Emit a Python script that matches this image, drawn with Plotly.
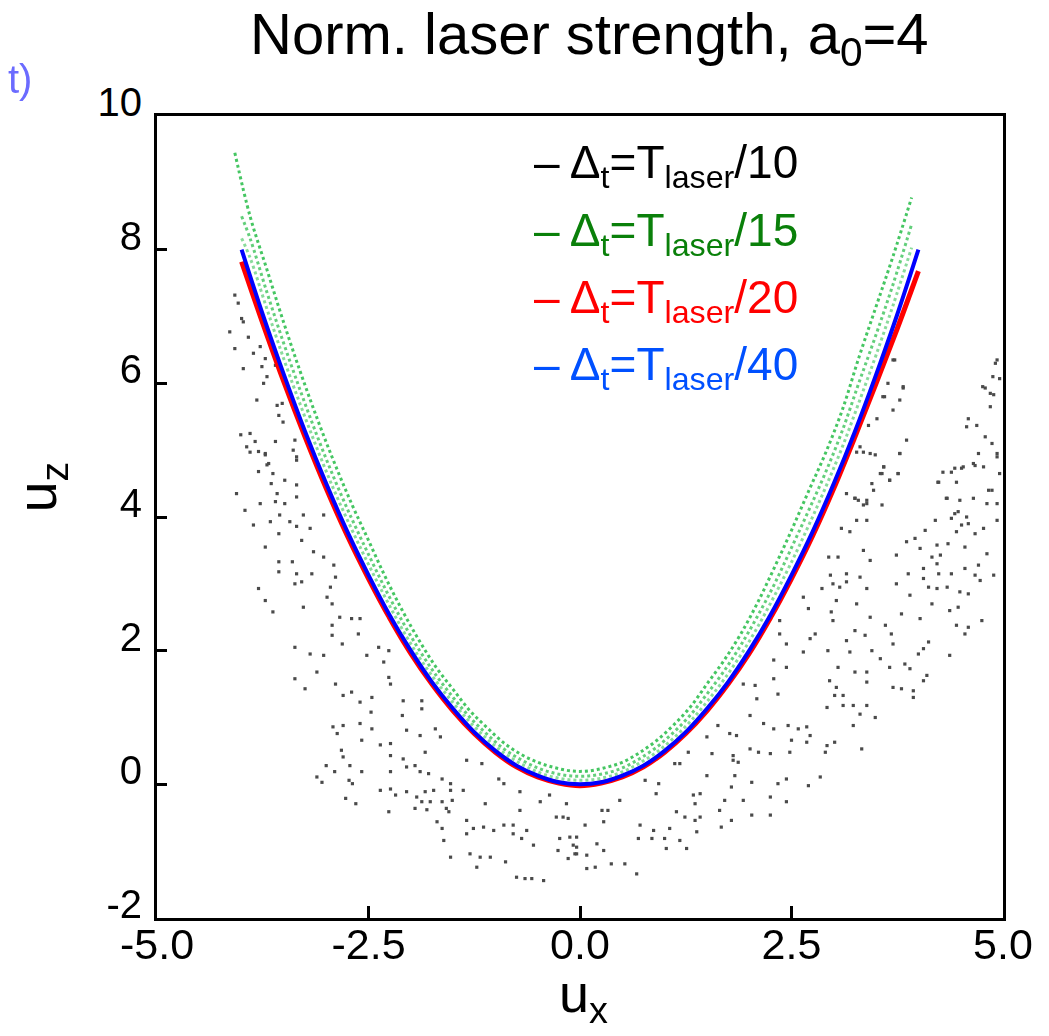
import plotly.graph_objects as go

# ---- axis ticks -------------------------------------------------------------
x_ticks = [-5.0, -2.5, 0.0, 2.5, 5.0]
x_tick_text = ["-5.0", "-2.5", "0.0", "2.5", "5.0"]
y_ticks = [-2, 0, 2, 4, 6, 8, 10]
y_tick_text = ["-2", "0", "2", "4", "6", "8", "10"]

# ---- dt = T_laser/40 (blue) ------------------------------------------------
ux_fine = [-4.0, -3.75, -3.5, -3.25, -3.0, -2.75, -2.5, -2.25, -2.0, -1.75, -1.5,
           -1.25, -1.0, -0.75, -0.5, -0.25, 0.0, 0.25, 0.5, 0.75, 1.0, 1.25, 1.5,
           1.75, 2.0, 2.25, 2.5, 2.75, 3.0, 3.25, 3.5, 3.75, 4.0]
uz_dt40 = [8.0, 7.03, 6.13, 5.28, 4.5, 3.78, 3.13, 2.53, 2.0, 1.53, 1.13, 0.78, 0.5,
           0.28, 0.13, 0.03, 0.0, 0.03, 0.13, 0.28, 0.5, 0.78, 1.13, 1.53, 2.0, 2.53,
           3.13, 3.78, 4.5, 5.28, 6.13, 7.03, 8.0]

# ---- dt = T_laser/20 (red) -------------------------------------------------
uz_dt20 = [7.82, 6.9, 6.02, 5.2, 4.43, 3.72, 3.08, 2.49, 1.96, 1.5, 1.1, 0.76, 0.48,
           0.26, 0.11, 0.02, -0.02, 0.02, 0.11, 0.26, 0.48, 0.76, 1.1, 1.5, 1.96, 2.49,
           3.08, 3.72, 4.43, 5.2, 6.0, 6.82, 7.68]

# ---- dt = T_laser/15 (green, three strands of sampled points) -----------------
ux_green = [-4.08, -3.9, -3.7, -3.5, -3.3, -3.1, -2.9, -2.7, -2.5, -2.3, -2.1, -1.9,
            -1.7, -1.5, -1.3, -1.1, -0.9, -0.7, -0.5, -0.3, -0.1, 0.1, 0.3, 0.5, 0.7,
            0.9, 1.1, 1.3, 1.5, 1.7, 1.9, 2.1, 2.3, 2.5, 2.7, 2.9, 3.1, 3.3, 3.5, 3.7,
            3.92]
uz_dt15_outer = [9.45, 8.5, 7.7, 6.9, 6.15, 5.45, 4.8, 4.2, 3.65, 3.1, 2.6, 2.15, 1.75,
                 1.42, 1.1, 0.85, 0.62, 0.45, 0.33, 0.25, 0.2, 0.2, 0.25, 0.33, 0.47,
                 0.65, 0.88, 1.15, 1.5, 1.85, 2.25, 2.72, 3.25, 3.8, 4.38, 4.95, 5.6,
                 6.4, 7.15, 7.9, 8.78]
ux_green_b = [-4.0, -3.9, -3.7, -3.5, -3.3, -3.1, -2.9, -2.7, -2.5, -2.3, -2.1, -1.9,
              -1.7, -1.5, -1.3, -1.1, -0.9, -0.7, -0.5, -0.3, -0.1, 0.1, 0.3, 0.5, 0.7,
              0.9, 1.1, 1.3, 1.5, 1.7, 1.9, 2.1, 2.3, 2.5, 2.7, 2.9, 3.1, 3.3, 3.5, 3.7,
              3.92]
uz_dt15_mid = [8.5, 8.17, 7.36, 6.59, 5.87, 5.19, 4.56, 3.98, 3.44, 2.92, 2.44, 2.01,
               1.63, 1.3, 1.0, 0.75, 0.53, 0.37, 0.245, 0.165, 0.125, 0.125, 0.165,
               0.245, 0.38, 0.55, 0.77, 1.03, 1.35, 1.69, 2.08, 2.52, 3.0, 3.54, 4.09,
               4.66, 5.29, 6.02, 6.73, 7.48, 8.38]
uz_dt15_inner = [8.17, 7.88, 7.11, 6.36, 5.66, 5.0, 4.38, 3.82, 3.29, 2.79, 2.32, 1.9,
                 1.54, 1.22, 0.93, 0.68, 0.47, 0.31, 0.185, 0.105, 0.065, 0.065, 0.105,
                 0.185, 0.315, 0.475, 0.685, 0.935, 1.235, 1.565, 1.935, 2.355, 2.825,
                 3.325, 3.865, 4.435, 5.045, 5.725, 6.425, 7.165, 8.03]

# ---- dt = T_laser/10 (black, scattered particles) ----------------------------
dots_upper_left = [
    (-4.08, 7.32), (-4.04, 7.20), (-4.00, 6.97), (-3.98, 6.92), (-4.14, 6.77),
    (-3.92, 6.69), (-4.08, 6.52), (-3.78, 6.55), (-3.72, 6.37), (-3.86, 6.45),
    (-3.98, 6.22), (-3.76, 6.25), (-3.70, 6.10), (-3.74, 6.00), (-3.60, 6.27),
    (-3.82, 5.75), (-3.58, 5.67), (-3.52, 5.70), (-3.56, 5.52), (-3.51, 5.42),
    (-4.01, 5.23), (-3.90, 5.25), (-3.60, 5.13), (-3.84, 5.13), (-3.94, 5.05),
    (-3.80, 4.98), (-3.72, 4.95), (-3.68, 4.80), (-3.37, 5.15), (-3.39, 5.00),
    (-3.35, 4.85), (-3.90, 4.97), (-3.72, 4.93), (-3.35, 4.90), (-3.70, 4.78),
    (-3.80, 4.68), (-3.63, 4.65), (-3.49, 4.55), (-3.65, 4.50), (-3.35, 4.48),
    (-4.06, 4.35), (-3.58, 4.35), (-3.35, 4.30), (-3.78, 4.20), (-3.60, 4.23),
    (-3.49, 4.20), (-3.96, 4.10), (-3.55, 4.03), (-3.27, 4.03), (-3.03, 4.03),
    (-3.66, 3.93), (-3.43, 3.93), (-3.86, 3.88), (-3.35, 3.86), (-3.19, 3.83),
    (-3.56, 3.75), (-3.29, 3.65), (-3.72, 3.55), (-3.15, 3.48), (-3.03, 3.40),
    (-3.56, 3.33), (-3.40, 3.33), (-2.91, 3.28), (-3.56, 3.18), (-3.35, 3.15),
    (-3.17, 3.15), (-2.89, 3.10), (-3.37, 3.00), (-3.29, 3.03), (-3.80, 2.93),
    (-2.95, 2.95), (-2.99, 2.80), (-3.72, 2.75), (-2.93, 2.70), (-3.63, 2.58),
    (-3.27, 2.65),
]
dots_lower_left = [
    (-2.84, 2.50), (-2.93, 2.38), (-2.70, 2.48), (-2.60, 2.48), (-2.62, 2.25),
    (-2.93, 2.23), (-2.81, 2.10), (-3.37, 2.05), (-3.19, 1.95), (-3.03, 1.93),
    (-2.38, 2.05), (-2.26, 2.00), (-2.52, 1.93), (-2.32, 1.83), (-3.11, 1.68),
    (-3.37, 1.58), (-2.89, 1.50), (-2.26, 1.60), (-2.24, 1.50), (-3.25, 1.43),
    (-2.70, 1.38), (-2.80, 1.33), (-2.60, 1.23), (-2.46, 1.30), (-2.09, 1.25),
    (-1.87, 1.25), (-2.47, 1.08), (-2.10, 1.03), (-1.87, 1.13), (-2.92, 0.86),
    (-2.80, 0.88), (-2.60, 0.91), (-2.87, 0.76), (-2.46, 0.83), (-2.05, 0.81),
    (-1.71, 0.83), (-2.58, 0.66), (-2.36, 0.59), (-2.24, 0.61), (-1.89, 0.73),
    (-1.65, 0.71), (-2.82, 0.51), (-2.24, 0.43), (-2.09, 0.38), (-1.83, 0.48),
    (-2.80, 0.41), (-1.34, 0.36), (-1.16, 0.31), (-3.00, 0.28), (-2.72, 0.28),
    (-2.05, 0.26), (-1.95, 0.28), (-2.90, 0.19), (-2.58, 0.19), (-2.24, 0.19),
    (-1.89, 0.19), (-1.79, 0.16), (-3.11, 0.11), (-3.05, 0.03), (-2.73, 0.06),
    (-2.69, 0.01), (-1.63, 0.08), (-1.53, 0.01), (-0.96, 0.08), (-0.90, 0.01),
    (-2.36, -0.09), (-2.24, -0.07), (-2.18, -0.16), (-2.05, -0.11), (-1.83, -0.11),
    (-1.73, -0.09), (-1.53, -0.09), (-1.38, -0.09), (-0.71, -0.11), (-0.36, -0.16),
    (-2.77, -0.21), (-2.65, -0.29), (-1.93, -0.19), (-1.87, -0.26), (-1.77, -0.26),
    (-1.63, -0.26), (-1.51, -0.24), (-1.12, -0.29), (-0.47, -0.26), (-0.16, -0.29),
    (-1.95, -0.36), (-1.81, -0.38), (-1.58, -0.36), (-1.55, -0.41), (-2.26, -0.41),
    (-0.71, -0.39), (-0.28, -0.49), (-0.20, -0.49), (-0.14, -0.51), (-1.69, -0.56),
    (-1.34, -0.54), (-1.63, -0.66), (-1.26, -0.66), (-1.14, -0.64), (-1.02, -0.69),
    (-0.90, -0.61), (-0.79, -0.61), (-0.63, -0.69), (-1.34, -0.74), (-0.79, -0.74),
    (-0.69, -0.81), (-0.55, -0.91), (-0.24, -0.81), (-0.12, -0.79), (-1.61, -0.84),
    (-0.26, -0.99), (-0.04, -0.94), (-1.53, -1.09), (-1.30, -1.04), (-1.18, -1.09),
    (-1.06, -1.09), (-0.88, -1.16), (-0.14, -1.11), (-0.06, -1.04), (-1.22, -1.24),
    (-0.75, -1.39), (-0.65, -1.41), (-0.57, -1.41), (-0.43, -1.44),
]
dots_lower_right = [
    (3.27, 4.97), (3.35, 4.97), (3.43, 4.95), (3.78, 4.95), (4.71, 4.95),
    (4.93, 4.90), (3.59, 4.75), (3.66, 4.55), (3.57, 4.65), (3.76, 4.65),
    (4.24, 4.52), (4.39, 4.67), (4.51, 4.73), (4.67, 4.77), (4.83, 4.40),
    (4.93, 4.20), (3.15, 4.35), (3.25, 4.28), (3.39, 4.25), (3.35, 4.18),
    (3.57, 4.18), (3.47, 4.40), (4.34, 4.28), (4.47, 4.08), (4.65, 4.28),
    (4.93, 3.95), (3.27, 3.95), (3.39, 3.95), (4.20, 3.95), (4.39, 3.98),
    (4.51, 3.88), (4.59, 3.90), (4.77, 3.83), (3.19, 3.78), (3.09, 3.83),
    (4.45, 3.78), (4.67, 3.75), (4.08, 3.80), (3.86, 3.63), (3.96, 3.68),
    (4.02, 3.53), (4.22, 3.58), (4.35, 3.60), (4.55, 3.55), (2.94, 3.40),
    (3.05, 3.40), (3.35, 3.50), (3.43, 3.35), (3.74, 3.43), (4.16, 3.40),
    (4.26, 3.43), (4.81, 3.45), (4.71, 3.28), (4.06, 3.23), (4.22, 3.30),
    (4.55, 3.23), (2.96, 3.13), (3.15, 3.15), (3.31, 3.10), (3.88, 3.15),
    (4.06, 3.08), (4.24, 3.15), (4.39, 3.15), (4.67, 3.13), (4.89, 3.13),
    (2.99, 3.00), (3.15, 3.03), (3.74, 3.00), (4.73, 3.05), (2.86, 2.93),
    (3.07, 2.95), (3.39, 2.93), (4.12, 2.95), (4.22, 2.93), (4.34, 2.95),
    (4.49, 2.88), (4.59, 2.85), (2.64, 2.80), (3.03, 2.75), (3.27, 2.70),
    (3.90, 2.83), (4.16, 2.70), (4.47, 2.65), (2.70, 2.63), (2.97, 2.58),
    (3.80, 2.55), (4.02, 2.48), (4.37, 2.60), (4.75, 2.45), (3.43, 2.50),
    (2.36, 2.45), (2.99, 2.45), (3.61, 2.38), (4.59, 2.35), (4.45, 2.38),
    (3.25, 2.30), (3.37, 2.23), (3.68, 2.25), (4.55, 2.25), (2.36, 2.25),
    (2.78, 2.25), (2.44, 2.10), (2.72, 2.18), (3.15, 2.15), (3.70, 2.10),
    (4.12, 2.13), (2.64, 1.98), (2.93, 2.00), (3.19, 1.98), (3.45, 2.00),
    (4.00, 1.95), (4.06, 2.03), (4.37, 1.93), (2.29, 1.86), (2.44, 1.75),
    (3.55, 1.88), (3.84, 1.80), (3.90, 1.73), (3.05, 1.75), (3.66, 1.75),
    (3.25, 1.68), (3.39, 1.68), (2.29, 1.58), (4.10, 1.63), (4.06, 1.55),
    (2.95, 1.55), (3.39, 1.53), (2.07, 1.48), (1.93, 1.50), (3.03, 1.45),
    (3.70, 1.45), (3.80, 1.43), (3.94, 1.40), (2.34, 1.35), (3.01, 1.33),
    (3.11, 1.33), (2.09, 1.28), (3.94, 1.30), (2.92, 1.15), (3.11, 1.18),
    (3.23, 1.18), (3.39, 1.18), (2.01, 1.03), (3.49, 1.00), (3.31, 1.05),
    (1.63, 0.88), (2.17, 0.91), (2.29, 0.83), (2.46, 0.88), (2.58, 0.83),
    (2.68, 0.86), (2.72, 0.73), (3.23, 0.88), (1.77, 0.76), (1.85, 0.73),
    (1.50, 0.71), (2.50, 0.66), (2.68, 0.63), (3.01, 0.63), (2.92, 0.58),
    (3.33, 0.53), (2.01, 0.53), (2.11, 0.48), (2.25, 0.46), (2.48, 0.48),
    (2.90, 0.48), (1.28, 0.48), (1.56, 0.46), (1.81, 0.43), (1.81, 0.36),
    (1.87, 0.33), (1.12, 0.31), (1.18, 0.31), (0.77, 0.06), (0.93, 0.01),
    (1.50, 0.13), (1.83, 0.13), (2.03, 0.03), (2.34, 0.01), (2.44, 0.08),
    (2.70, -0.02), (2.84, 0.11), (1.79, -0.04), (0.47, -0.24), (0.90, -0.14),
    (1.34, -0.16), (1.42, -0.14), (2.25, -0.19), (2.44, -0.26), (1.93, -0.24),
    (1.71, -0.24), (1.36, -0.29), (0.26, -0.39), (0.33, -0.39), (1.14, -0.41),
    (1.24, -0.49), (1.36, -0.54), (1.42, -0.49), (1.65, -0.39), (2.03, -0.46),
    (2.25, -0.46), (1.79, -0.54), (1.67, -0.64), (0.28, -0.56), (0.06, -0.61),
    (0.71, -0.61), (1.06, -0.66), (0.87, -0.69), (1.38, -0.71), (-0.04, -0.79),
    (-0.08, -0.91), (1.00, -0.81), (0.69, -0.81), (0.85, -0.81), (1.18, -0.84),
    (0.20, -0.89), (0.28, -0.99), (1.02, -0.96), (1.26, -0.96), (-0.04, -1.04),
    (0.08, -1.06), (0.08, -1.26), (0.18, -1.24), (0.37, -1.19), (0.53, -1.19),
    (0.67, -1.34),
]
dots_upper_right = [
    (4.91, 6.30), (4.96, 6.07), (4.79, 5.93), (4.89, 5.83), (4.85, 5.65),
    (4.59, 5.47), (4.69, 5.37), (4.79, 5.20), (4.87, 5.10), (4.93, 4.95),
    (4.57, 5.35), (3.70, 6.35), (3.64, 6.00), (3.82, 5.93), (3.60, 5.80),
    (3.78, 5.75), (3.70, 5.60), (3.51, 5.47), (3.41, 5.37), (3.86, 5.15),
    (3.31, 5.05), (3.49, 4.93), (3.78, 4.95), (3.59, 4.75), (3.66, 4.55),
    (3.76, 4.65), (3.45, 4.50), (3.55, 4.65), (4.29, 4.67), (4.43, 4.73),
    (4.53, 4.75), (4.45, 4.52), (4.23, 4.52), (4.65, 4.80), (4.77, 4.75),
    (4.87, 4.40), (4.96, 4.65), (4.33, 4.28), (4.49, 4.25), (4.81, 4.20),
    (4.43, 4.05), (4.57, 4.00), (3.29, 4.25), (3.39, 4.20), (3.25, 4.28),
    (4.93, 6.35), (4.88, 6.10), (4.76, 5.95), (4.85, 5.85), (3.72, 6.35),
    (3.63, 6.45), (3.82, 5.95), (3.58, 5.80),
]

FONT = "Liberation Sans, Arial, Helvetica, sans-serif"

fig = go.Figure()

# scattered particles of the coarsest time step
all_dots = dots_upper_left + dots_lower_left + dots_lower_right + dots_upper_right
fig.add_trace(go.Scatter(
    x=[p[0] for p in all_dots], y=[p[1] for p in all_dots], mode="markers",
    marker=dict(symbol="square", size=3.2, color="#2a2a2a", line=dict(width=0)),
    opacity=0.85, hoverinfo="skip"))

# green band drawn as dotted strands
for ux, uz, op in [(ux_green_b, uz_dt15_inner, 0.6), (ux_green_b, uz_dt15_mid, 0.8),
                   (ux_green, uz_dt15_outer, 0.95)]:
    fig.add_trace(go.Scatter(
        x=ux, y=uz, mode="lines",
        line=dict(color="#3cc35a", width=3, dash="dot", shape="spline"),
        opacity=op, hoverinfo="skip"))

fig.add_trace(go.Scatter(x=ux_fine, y=uz_dt20, mode="lines",
                         line=dict(color="#ff0000", width=5, shape="spline"),
                         hoverinfo="skip"))
fig.add_trace(go.Scatter(x=ux_fine, y=uz_dt40, mode="lines",
                         line=dict(color="#0000ff", width=4, shape="spline"),
                         hoverinfo="skip"))

axis_common = dict(
    showgrid=False, zeroline=False, showline=True, linewidth=3, linecolor="black",
    mirror=True, ticks="inside", tickwidth=3, tickcolor="black",
)
fig.update_xaxes(range=[-5, 5], tickvals=x_ticks, ticktext=x_tick_text, ticklen=12,
                 ticklabelstandoff=-14,
                 tickfont=dict(family=FONT, size=43, color="black"), **axis_common)
fig.update_yaxes(range=[-2, 10], tickvals=y_ticks, ticktext=y_tick_text, ticklen=10,
                 ticklabelstandoff=4, ticklabelshift=-14,
                 tickfont=dict(family=FONT, size=40, color="black"), **axis_common)

annotations = [
    dict(text="Norm. laser strength, a<sub>0</sub>=4", x=0.511, y=1.097,
         font=dict(family=FONT, size=58, color="black")),
    dict(text="t)", x=-0.162, y=1.046, font=dict(family=FONT, size=40, color="#6b6bff")),
    dict(text="u<sub>x</sub>", x=0.504, y=-0.054, yanchor="top",
         font=dict(family=FONT, size=54, color="black")),
    dict(text="u<sub>z</sub>", x=-0.138, y=0.537, textangle=-90,
         font=dict(family=FONT, size=56, color="black")),
]
legend_rows = [
    ("– Δ<sub>t</sub>=T<sub>laser</sub>/10", "#000000", 0.938),
    ("– Δ<sub>t</sub>=T<sub>laser</sub>/15", "#0a800a", 0.854),
    ("– Δ<sub>t</sub>=T<sub>laser</sub>/20", "#ff0000", 0.770),
    ("– Δ<sub>t</sub>=T<sub>laser</sub>/40", "#0050ff", 0.686),
]
for text, color, ypos in legend_rows:
    annotations.append(dict(text=text, x=0.443, y=ypos, xanchor="left",
                            font=dict(family=FONT, size=46, color=color)))
for a in annotations:
    a.setdefault("xanchor", "center")
    a.setdefault("yanchor", "middle")
    a.update(xref="paper", yref="paper", showarrow=False)

fig.update_layout(
    width=1049, height=1036,
    margin=dict(l=157, r=46, t=116, b=118),
    paper_bgcolor="white", plot_bgcolor="white",
    showlegend=False, annotations=annotations,
)

fig.write_html("out.html")
